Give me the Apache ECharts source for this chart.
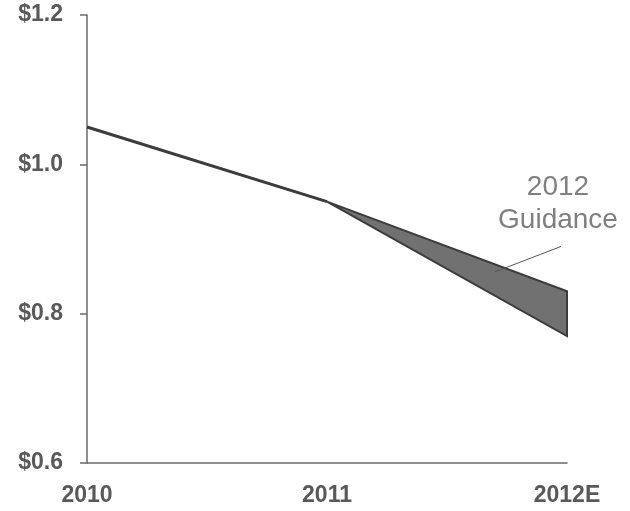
<!DOCTYPE html>
<html>
<head>
<meta charset="utf-8">
<script src="https://cdn.jsdelivr.net/npm/echarts@6/dist/echarts.min.js"></script>
<style>
  html, body { margin: 0; padding: 0; background: #fff; }
  #chart { width: 630px; height: 511px; }
</style>
</head>
<body>
<div id="chart"></div>
<script>
// Earnings per share: actuals and guidance range
const years = ['2010', '2011', '2012E'];
const actualEps = [1.05, 0.95, '-'];
const guidanceHigh = [null, 0.95, 0.83];
const guidanceLow = [null, 0.95, 0.77];
const yTicks = [0.6, 0.8, 1.0, 1.2];

const chart = echarts.init(document.getElementById('chart'), null, { renderer: 'canvas' });

// Polygon points for the guidance band: along the high edge, then back along the low edge
function bandPoints(api) {
  const pts = [];
  for (let i = 0; i < years.length; i++) {
    if (guidanceHigh[i] != null) pts.push(api.coord([i, guidanceHigh[i]]));
  }
  for (let i = years.length - 1; i >= 0; i--) {
    if (guidanceLow[i] != null) pts.push(api.coord([i, guidanceLow[i]]));
  }
  return pts;
}

const labelStyle = {
  color: '#595959',
  fontFamily: 'Liberation Sans, Arial, sans-serif',
  fontWeight: 'bold',
  fontSize: 23
};

chart.setOption({
  animation: false,
  grid: { left: 87, right: 63, top: 15, bottom: 48 },
  xAxis: {
    type: 'category',
    data: years,
    boundaryGap: false,
    axisLine: { lineStyle: { color: '#6a6a6a', width: 1.5 } },
    axisTick: { show: false },
    axisLabel: Object.assign({ margin: 21 }, labelStyle),
    splitLine: { show: false }
  },
  yAxis: {
    type: 'value',
    min: yTicks[0],
    max: yTicks[yTicks.length - 1],
    interval: 0.2,
    axisLine: { show: true, lineStyle: { color: '#6a6a6a', width: 1.5 } },
    axisTick: { show: true, length: 7, lineStyle: { color: '#6a6a6a', width: 1.5 } },
    axisLabel: Object.assign({ margin: 24, formatter: v => '$' + v.toFixed(1) }, labelStyle),
    splitLine: { show: false }
  },
  series: [
    {
      type: 'custom',
      renderItem: function (params, api) {
        if (params.dataIndex !== 0) return null;
        return {
          type: 'polygon',
          shape: { points: bandPoints(api) },
          style: { fill: '#717171', stroke: '#3c3c3c', lineWidth: 2, lineJoin: 'miter' }
        };
      },
      data: [0],
      z: 2
    },
    {
      type: 'line',
      data: actualEps,
      symbol: 'none',
      lineStyle: { color: '#3c3c3c', width: 3 },
      z: 3
    }
  ]
});

// Pixel position for a fractional category position, interpolated between neighbouring categories
function toPixel(xFrac, value) {
  const i0 = Math.floor(xFrac);
  const i1 = Math.min(i0 + 1, years.length - 1);
  const p0 = chart.convertToPixel({ gridIndex: 0 }, [i0, value]);
  const p1 = chart.convertToPixel({ gridIndex: 0 }, [i1, value]);
  const t = xFrac - i0;
  return [p0[0] + (p1[0] - p0[0]) * t, p0[1]];
}

// Annotation for the guidance band
const anchor = toPixel(1.975, 0.89);
const tip = toPixel(1.7, 0.856);
const textPos = toPixel(1.9625, 0.947);

chart.setOption({
  graphic: [
    {
      type: 'line',
      shape: { x1: anchor[0], y1: anchor[1], x2: tip[0], y2: tip[1] },
      style: { stroke: '#555', lineWidth: 1 },
      z: 10
    },
    {
      type: 'text',
      x: textPos[0],
      y: textPos[1],
      style: {
        text: '2012\nGuidance',
        align: 'center',
        verticalAlign: 'middle',
        fill: '#808080',
        font: '28px "Liberation Sans", Arial, sans-serif',
        lineHeight: 33
      },
      z: 10
    }
  ]
});
</script>
</body>
</html>
